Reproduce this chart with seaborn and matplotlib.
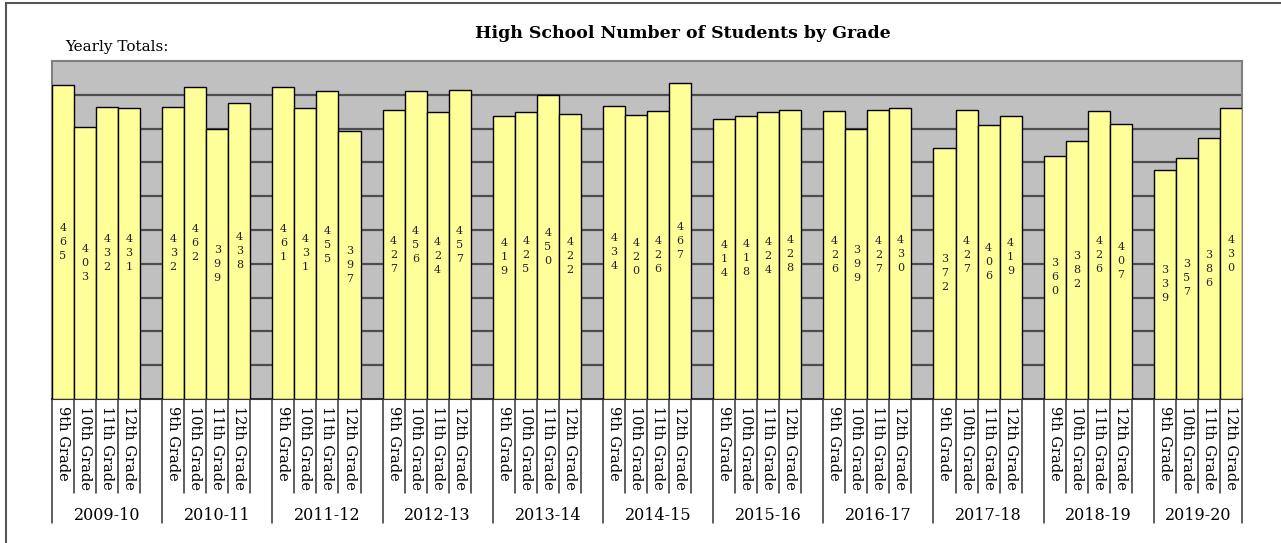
import numpy as np
import pandas as pd
import seaborn as sns
import matplotlib.pyplot as plt
from matplotlib.lines import Line2D
import matplotlib.transforms as mtransforms

# Data
years = ['2009-10', '2010-11', '2011-12', '2012-13', '2013-14', '2014-15',
         '2015-16', '2016-17', '2017-18', '2018-19', '2019-20']
grades = ['9th Grade', '10th Grade', '11th Grade', '12th Grade']
grade_9 = [465, 432, 461, 427, 419, 434, 414, 426, 372, 360, 339]
grade_10 = [403, 462, 431, 456, 425, 420, 418, 399, 427, 382, 357]
grade_11 = [432, 399, 455, 424, 450, 426, 424, 427, 406, 426, 386]
grade_12 = [431, 438, 397, 457, 422, 467, 428, 430, 419, 407, 430]

sns.set_style("white")
plt.rcParams['font.family'] = ['DejaVu Serif']
plt.rcParams['text.color'] = 'black'
plt.rcParams['xtick.color'] = 'black'

series = [grade_9, grade_10, grade_11, grade_12]
rows = []
for g, year in enumerate(years):
    for i, grade in enumerate(grades):
        rows.append({'year': year, 'grade': grade, 'pos': g * 5 + i,
                     'students': series[i][g]})
df = pd.DataFrame(rows)

fig = plt.figure(figsize=(12.81, 5.43), dpi=100)
W, H = 1281, 543
ax = fig.add_axes([52 / W, (H - 399) / H, (1242 - 52) / W, (399 - 61) / H])
ax.set_facecolor('#c0c0c0')

sns.barplot(data=df, x='pos', y='students', native_scale=True, width=1,
            color='#ffff99', saturation=1, edgecolor='black', linewidth=1,
            errorbar=None, ax=ax, zorder=3)

ax.set_xlim(df['pos'].min() - 0.5, df['pos'].max() + 0.5)
ax.set_ylim(0, 500)
ax.set_yticks(np.arange(50, 500, 50))
ax.set_yticklabels([])
ax.yaxis.grid(True, color='#4d4d4d', linewidth=1.6)
ax.set_axisbelow(True)
ax.tick_params(axis='both', length=0)
ax.set_xlabel('')
ax.set_ylabel('')

for side in ['top', 'left', 'right']:
    ax.spines[side].set_color('#808080')
    ax.spines[side].set_linewidth(1.5)
ax.spines['bottom'].set_color('#333333')
ax.spines['bottom'].set_linewidth(1.5)

# value labels, digits stacked vertically in the middle of each bar
for _, r in df.iterrows():
    ax.text(r['pos'], r['students'] / 2, '\n'.join(str(r['students'])),
            ha='center', va='center', fontsize=8, linespacing=1.5,
            color='#222222', zorder=4)

# grade tick labels, rotated downwards
ax.set_xticks(df['pos'])
ax.set_xticklabels(df['grade'], rotation=270, va='top', ha='center',
                   fontsize=10.5)
ax.tick_params(axis='x', pad=5)

# cell separators below the axis
trans = mtransforms.blended_transform_factory(ax.transData, ax.transAxes)
axh = 399 - 61
short_y = -94 / axh
long_y = -124 / axh
for g in range(len(years)):
    sub = df[df['year'] == years[g]]
    left = sub['pos'].min() - 0.5
    right = sub['pos'].max() + 0.5
    ax.plot([left, left], [0, long_y], transform=trans, color='#333333',
            linewidth=1.1, clip_on=False)
    for p in sub['pos'].iloc[1:]:
        ax.plot([p - 0.5, p - 0.5], [0, short_y], transform=trans,
                color='#333333', linewidth=1.1, clip_on=False)
    last = g == len(years) - 1
    ax.plot([right, right], [0, long_y if last else short_y], transform=trans,
            color='#333333', linewidth=1.1, clip_on=False)
    if last:
        group_end = right
    else:
        group_end = df[df['year'] == years[g + 1]]['pos'].min() - 0.5
    ax.text((left + group_end) / 2, -117 / axh, years[g], transform=trans,
            ha='center', va='center', fontsize=11.5)

fig.text(683 / W, 1 - 33 / H, 'High School Number of Students by Grade',
         ha='center', va='center', fontsize=12.5, fontweight='bold')
fig.text(65 / W, 1 - 47 / H, 'Yearly Totals:', ha='left', va='center',
         fontsize=11)

# outer frame (top and left edges)
fig.add_artist(Line2D([6 / W, 1], [1 - 3 / H, 1 - 3 / H], color='#555555',
                      linewidth=1.5))
fig.add_artist(Line2D([6 / W, 6 / W], [0, 1 - 3 / H], color='#555555',
                      linewidth=1.5))

fig.savefig('out.png', dpi=100)
